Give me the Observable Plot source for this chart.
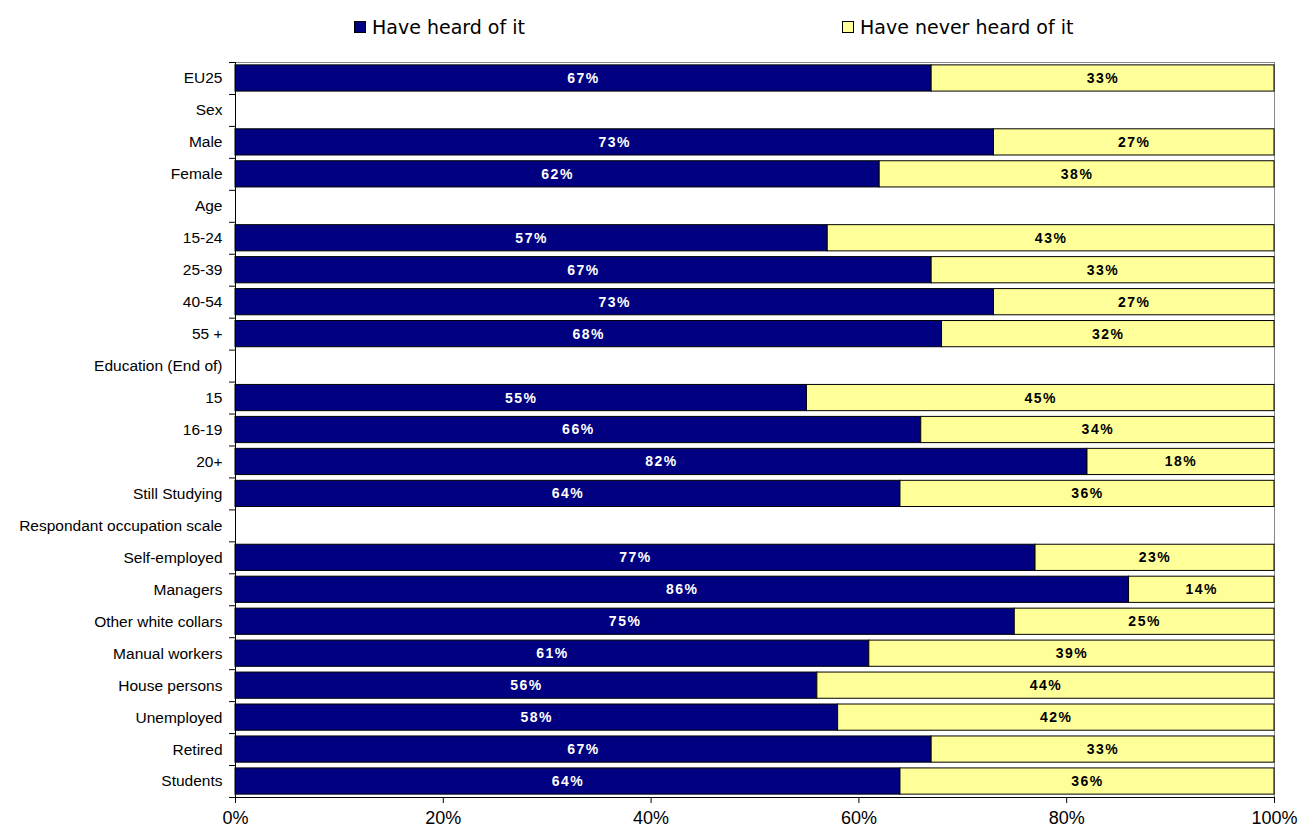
<!DOCTYPE html>
<html>
<head>
<meta charset="utf-8">
<script src="https://cdn.jsdelivr.net/npm/d3@7"></script>
<script src="https://cdn.jsdelivr.net/npm/@observablehq/plot@0.6"></script>
<style>
  html, body { margin: 0; padding: 0; background: #fff; color: #000; }
  #legend { position: relative; width: 1299px; height: 45px; font-family: "DejaVu Sans", sans-serif; font-size: 19px; }
  .item { position: absolute; top: 16px; display: flex; align-items: center; white-space: nowrap; }
  .sw { width: 10px; height: 10px; border: 1px solid #000; margin-right: 6px; }
  #chart svg { display: block; }
  #chart svg g[aria-label="text"] text { letter-spacing: 1.5px; }
</style>
</head>
<body>
<div id="legend"></div>
<div id="chart"></div>
<script>
const categories = ["EU25","Sex","Male","Female","Age","15-24","25-39","40-54","55 +","Education (End of)","15","16-19","20+","Still Studying","Respondant occupation scale","Self-employed","Managers","Other white collars","Manual workers","House persons","Unemployed","Retired","Students"];
const heard = [67,null,73,62,null,57,67,73,68,null,55,66,82,64,null,77,86,75,61,56,58,67,64];
const neverHeard = [33,null,27,38,null,43,33,27,32,null,45,34,18,36,null,23,14,25,39,44,42,33,36];
const seriesNames = ["Have heard of it","Have never heard of it"];
const seriesColors = ["#000080","#FFFF99"];
const xTicks = [0,20,40,60,80,100];

const rows = [];
categories.forEach((c, i) => {
  if (heard[i] != null) {
    rows.push({category: c, series: seriesNames[0], value: heard[i]});
    rows.push({category: c, series: seriesNames[1], value: neverHeard[i]});
  }
});

// legend
const legend = document.getElementById("legend");
const legendLefts = [354, 842];
seriesNames.forEach((s, i) => {
  const it = document.createElement("div");
  it.className = "item";
  it.style.left = legendLefts[i] + "px";
  const sw = document.createElement("div");
  sw.className = "sw";
  sw.style.background = seriesColors[i];
  const t = document.createElement("span");
  t.textContent = s;
  it.appendChild(sw); it.appendChild(t);
  legend.appendChild(it);
});

const width = 1299, height = 784;
const marginTop = 17, marginBottom = 32, marginLeft = 235, marginRight = 25;
const pInner = 0.18, pOuter = 0.09;
const step = (height - marginTop - marginBottom) / (categories.length - pInner + 2 * pOuter);
const last = categories[categories.length - 1];

const plot = Plot.plot({
  width, height, marginTop, marginBottom, marginLeft, marginRight,
  style: {fontFamily: "'Liberation Sans', Arial, sans-serif", color: "#000", background: "#fff"},
  x: {domain: [0, 100], axis: null},
  y: {domain: categories, paddingInner: pInner, paddingOuter: pOuter, round: false, axis: null},
  color: {domain: seriesNames, range: seriesColors},
  marks: [
    Plot.frame({stroke: "#888"}),
    Plot.barX(rows, {x: "value", y: "category", fill: "series", stroke: "#000", strokeWidth: 1}),
    Plot.text(rows, Plot.stackX({x: "value", y: "category", z: "series",
      text: d => d.series === seriesNames[0] ? d.value + "%" : "",
      fill: "white", fontWeight: "bold", fontSize: 14})),
    Plot.text(rows, Plot.stackX({x: "value", y: "category", z: "series",
      text: d => d.series === seriesNames[1] ? d.value + "%" : "",
      fill: "black", fontWeight: "bold", fontSize: 14})),
    Plot.ruleX([0], {stroke: "#000"}),
    Plot.ruleY([last], {dy: step / 2, stroke: "#000"}),
    Plot.axisY({tickSize: 0, tickPadding: 13, fontSize: 15.5, label: null}),
    Plot.axisY({tickSize: 6, tickFormat: () => "", dy: -step / 2, label: null}),
    Plot.axisY({ticks: [last], tickSize: 6, tickFormat: () => "", dy: step / 2, label: null}),
    Plot.axisX({ticks: xTicks, tickSize: 6, tickPadding: 8, tickFormat: d => d + "%", fontSize: 18, label: null})
  ]
});
document.getElementById("chart").appendChild(plot);
</script>
</body>
</html>
